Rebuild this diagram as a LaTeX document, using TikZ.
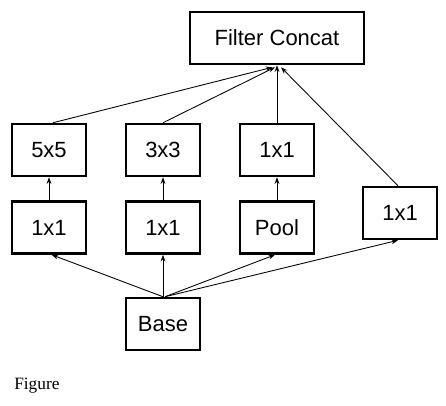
\documentclass[tikz,border=0pt]{standalone}
\usepackage{fontspec}
\setmainfont{Liberation Sans}
\newfontfamily\capfont{Liberation Serif}
\usetikzlibrary{arrows.meta}
\begin{document}
\begin{tikzpicture}[x=0.75pt,y=-0.75pt,
  box/.style={draw,line width=1.9pt,minimum width=55.5pt,minimum height=39pt,inner sep=0pt,font=\fontsize{16.5}{18}\selectfont},
  conn/.style={line width=0.65pt,-{Stealth[length=5pt,width=3.6pt]}}]
\useasboundingbox (0,0) rectangle (446,405);
\node[box,minimum width=130.5pt] (fc) at (277,38) {Filter Concat};
\node[box] (c5) at (49,150) {5x5};
\node[box] (c3) at (163,150) {3x3};
\node[box] (c1) at (277,150) {1x1};
\node[box] (r5) at (49,227.5) {1x1};
\node[box] (r3) at (163,227.5) {1x1};
\node[box] (pool) at (277,227.5) {Pool};
\node[box] (rr) at (400,213) {1x1};
\node[box] (base) at (163,324) {Base};
\node[font=\capfont\fontsize{13}{15}\selectfont,anchor=west,inner sep=0pt] (cap) at (14,386) {Figure};
\draw[conn] ([xshift=3pt]c5.north) -- ([xshift=-3.5pt,yshift=-1.5pt]fc.south);
\draw[conn] (c3.north) -- ([xshift=-1.5pt,yshift=-1.5pt]fc.south);
\draw[conn] (c1.north) -- (fc.south);
\draw[conn] ([xshift=-1.5pt]rr.north) -- ([xshift=3pt,yshift=-1.5pt]fc.south);
\draw[conn] (r5.north) -- (c5.south);
\draw[conn] (r3.north) -- (c3.south);
\draw[conn] (pool.north) -- (c1.south);
\draw[conn] (base.north) -- ([xshift=2pt]r5.south);
\draw[conn] (base.north) -- (r3.south);
\draw[conn] ([xshift=1.5pt]base.north) -- ([xshift=-1.5pt]pool.south);
\draw[conn] ([xshift=1.5pt]base.north) -- ([xshift=-1.5pt]rr.south);
\end{tikzpicture}
\end{document}
